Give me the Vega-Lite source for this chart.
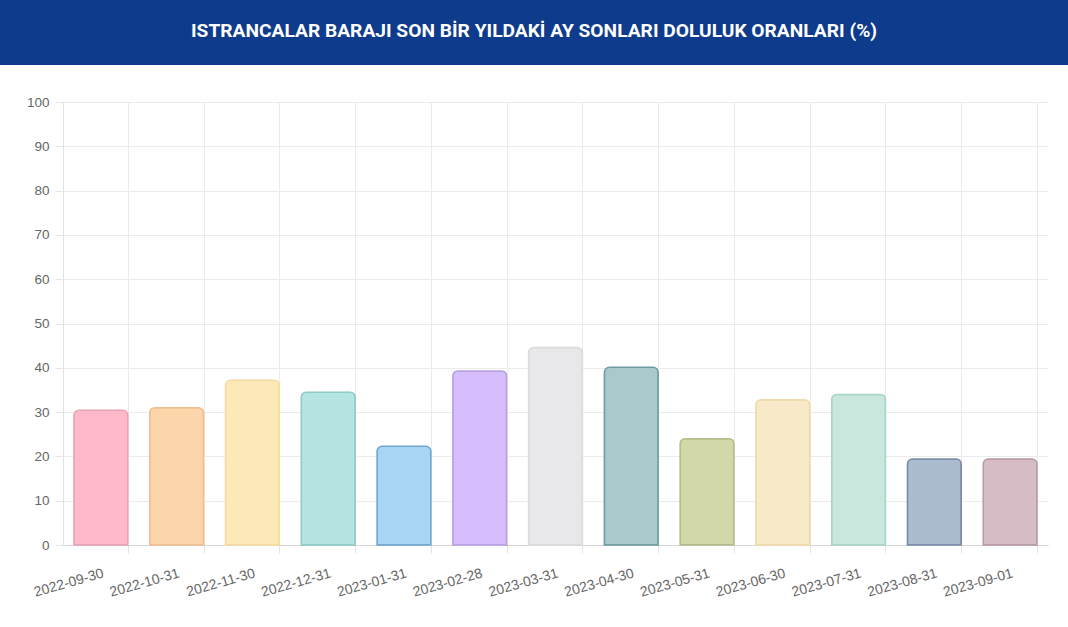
{
  "$schema": "https://vega.github.io/schema/vega-lite/v6.json",
  "background": "white",
  "padding": 0,
  "spacing": 30,
  "config": {"view": {"stroke": null}},
  "datasets": {
    "head": [{"title": "ISTRANCALAR BARAJI SON BİR YILDAKİ AY SONLARI DOLULUK ORANLARI (%)"}],
    "dams": [
      {"date": "2022-09-30", "value": 30.4},
      {"date": "2022-10-31", "value": 31.0},
      {"date": "2022-11-30", "value": 37.2},
      {"date": "2022-12-31", "value": 34.5},
      {"date": "2023-01-31", "value": 22.3},
      {"date": "2023-02-28", "value": 39.3},
      {"date": "2023-03-31", "value": 44.6},
      {"date": "2023-04-30", "value": 40.1},
      {"date": "2023-05-31", "value": 24.0},
      {"date": "2023-06-30", "value": 32.8},
      {"date": "2023-07-31", "value": 34.0},
      {"date": "2023-08-31", "value": 19.4},
      {"date": "2023-09-01", "value": 19.4}
    ]
  },
  "vconcat": [
    {
      "width": 1068,
      "height": 65,
      "view": {"fill": "#0e3b8b", "stroke": null},
      "data": {"name": "head"},
      "mark": {"type": "text", "color": "white", "font": "Roboto", "fontSize": 19.2, "fontWeight": "bold", "align": "center", "baseline": "middle", "dy": -2},
      "encoding": {"text": {"field": "title"}}
    },
    {
      "spacing": 0,
      "hconcat": [
        {
          "width": 1,
          "height": 1,
          "data": {"values": []},
          "mark": {"type": "text"},
          "encoding": {}
        },
        {
          "width": 985,
          "height": 443,
          "data": {"name": "dams"},
          "mark": {"type": "bar", "cornerRadiusEnd": 5, "strokeWidth": 1.5},
          "encoding": {
            "x": {
              "field": "date", "type": "ordinal", "sort": null,
              "scale": {"paddingInner": 0.29, "paddingOuter": 0.145},
              "axis": {
                "title": null, "labelAngle": -16, "labelAlign": "right", "labelBaseline": "top",
                "tickBand": "extent", "grid": true,
                "gridColor": {"condition": {"test": "datum.extra", "value": "transparent"}, "value": "#ebebeb"},
                "tickColor": {"condition": {"test": "datum.extra", "value": "transparent"}, "value": "#e4e4e4"},
                "tickSize": 8, "labelPadding": 13, "labelFont": "Liberation Sans", "labelFontSize": 14,
                "labelColor": "#666666", "domainColor": "#d6d6d6"
              }
            },
            "y": {
              "field": "value", "type": "quantitative",
              "scale": {"domain": [0, 100], "nice": false},
              "axis": {
                "title": null, "values": [0, 10, 20, 30, 40, 50, 60, 70, 80, 90, 100],
                "grid": true, "gridColor": "#ebebeb", "tickColor": "#e4e4e4", "tickSize": 8,
                "labelPadding": 6, "labelFont": "Liberation Sans", "labelFontSize": 13.5,
                "labelColor": "#666666", "domainColor": "#e3e3e3", "minExtent": 62
              }
            },
            "fill": {
              "field": "date", "type": "nominal", "sort": null, "legend": null,
              "scale": {
                "domain": ["2022-09-30","2022-10-31","2022-11-30","2022-12-31","2023-01-31","2023-02-28","2023-03-31","2023-04-30","2023-05-31","2023-06-30","2023-07-31","2023-08-31","2023-09-01"],
                "range": ["#ffb9ca","#fdd5ab","#fde8b8","#b4e5e2","#a8d5f5","#d6befc","#e8e8ea","#a9c9cd","#d3d8aa","#f8e9c9","#c9e7dd","#abbcd0","#d6bcc5"]
              }
            },
            "stroke": {
              "field": "date", "type": "nominal", "sort": null, "legend": null,
              "scale": {
                "domain": ["2022-09-30","2022-10-31","2022-11-30","2022-12-31","2023-01-31","2023-02-28","2023-03-31","2023-04-30","2023-05-31","2023-06-30","2023-07-31","2023-08-31","2023-09-01"],
                "range": ["#e9a2b4","#efbf92","#f6dba0","#8fcac7","#72a6cf","#b9a1e3","#dbdbde","#709ca3","#b5bb8b","#efdaaa","#a9d5c8","#7b8da6","#b99ba7"]
              }
            }
          }
        }
      ]
    }
  ]
}
